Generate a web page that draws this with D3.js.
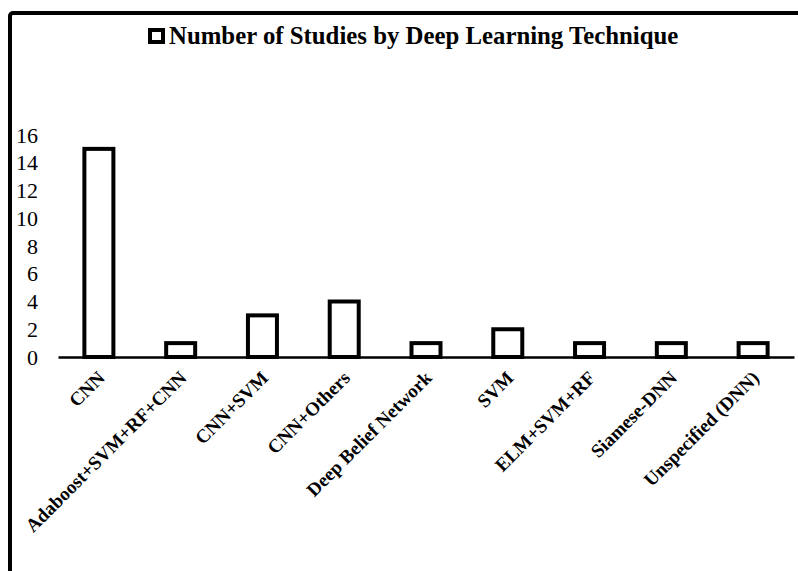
<!DOCTYPE html>
<html>
<head>
<meta charset="utf-8">
<script src="https://cdn.jsdelivr.net/npm/d3@7"></script>
<style>
  html, body { margin: 0; padding: 0; background: #fff; }
  svg { display: block; }
  text { font-family: "Liberation Serif", "Times New Roman", serif; fill: #000; }
</style>
</head>
<body>
<div id="chart"></div>
<script>
const categories = ["CNN", "Adaboost+SVM+RF+CNN", "CNN+SVM", "CNN+Others", "Deep Belief Network",
  "SVM", "ELM+SVM+RF", "Siamese-DNN", "Unspecified (DNN)"];
const studies = [15, 1, 3, 4, 1, 2, 1, 1, 1];
const yTicks = [0, 2, 4, 6, 8, 10, 12, 14, 16];
const titleText = "Number of Studies by Deep Learning Technique";

const width = 798, height = 571;
const plot = {left: 58, right: 794, top: 135, bottom: 357};

const svg = d3.select("#chart").append("svg")
    .attr("width", width)
    .attr("height", height)
    .attr("viewBox", `0 0 ${width} ${height}`);

// outer frame, only top-left visible
svg.append("rect")
    .attr("x", 10).attr("y", 13)
    .attr("width", 900).attr("height", 700)
    .attr("rx", 3).attr("ry", 3)
    .attr("fill", "none")
    .attr("stroke", "#000")
    .attr("stroke-width", 4);

const x = d3.scaleBand().domain(categories).range([plot.left, plot.right]);
const y = d3.scaleLinear().domain([0, 16]).range([plot.bottom, plot.top]);

// title with legend box
const title = svg.append("g");
title.append("rect")
    .attr("x", 150).attr("y", 30)
    .attr("width", 13).attr("height", 12)
    .attr("fill", "#fff").attr("stroke", "#000").attr("stroke-width", 4);
title.append("text")
    .attr("x", 169).attr("y", 44)
    .attr("font-size", 24.8)
    .attr("font-weight", "bold")
    .text(titleText);

// y axis labels, no line or ticks
const yAxis = svg.append("g")
    .attr("transform", `translate(${plot.left - 20},0)`)
    .call(d3.axisLeft(y).tickValues(yTicks).tickSize(0).tickPadding(0));
yAxis.select(".domain").remove();
yAxis.selectAll("text")
    .attr("font-family", "Liberation Serif, serif")
    .attr("font-size", 22)
    .attr("fill", "#000");

const barW = 29;
svg.append("g").selectAll("rect")
  .data(studies)
  .join("rect")
    .attr("x", (d, i) => x(categories[i]) + x.bandwidth() / 2 - barW / 2)
    .attr("y", d => y(d))
    .attr("width", barW)
    .attr("height", d => y(0) - y(d))
    .attr("fill", "#fff")
    .attr("stroke", "#000")
    .attr("stroke-width", 4);

// x axis baseline and rotated labels
const xAxis = svg.append("g")
    .attr("transform", `translate(0,${plot.bottom})`)
    .call(d3.axisBottom(x).tickSize(0).tickPadding(0));
xAxis.select(".domain")
    .attr("stroke", "#000")
    .attr("stroke-width", 2.5);
xAxis.selectAll("text")
    .attr("font-family", "Liberation Serif, serif")
    .attr("font-size", 19)
    .attr("font-weight", "bold")
    .attr("fill", "#000")
    .attr("text-anchor", "end")
    .attr("dy", null)
    .attr("y", 0)
    .attr("transform", "translate(7,22) rotate(-45)");
</script>
</body>
</html>
